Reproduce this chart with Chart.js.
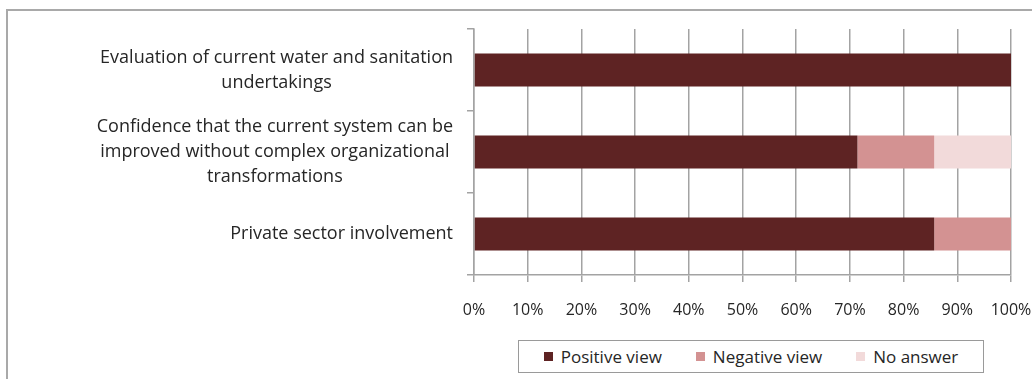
<!DOCTYPE html>
<html>
<head>
<meta charset="utf-8">
<script src="https://cdn.jsdelivr.net/npm/chart.js@4.4.1/dist/chart.umd.min.js"></script>
<style>
  html, body { margin: 0; padding: 0; background: #fff; overflow: hidden; width: 1032px; height: 379px; }
  #wrap { position: relative; width: 1032px; height: 379px; overflow: hidden; }
  #frame { position: absolute; left: 6px; top: 9px; width: 1100px; height: 500px; border: 2px solid #a9a9a9; box-sizing: border-box; }
  canvas { position: absolute; left: 0; top: 0; }
  #legend { position: absolute; left: 518px; top: 340px; width: 466px; height: 33px; border: 1.5px solid #9a9a9a; box-sizing: border-box;
            display: flex; align-items: center; justify-content: center; gap: 34px; font-family: "Open Sans", Lato, sans-serif; font-size: 17px; color: #262626; background: #fff; }
  .item { display: flex; align-items: center; white-space: nowrap; }
  .sw { width: 9px; height: 9px; margin-right: 8px; }
</style>
</head>
<body>
<div id="wrap">
  <div id="frame"></div>
  <canvas id="c" width="1032" height="379"></canvas>
  <div id="legend"></div>
</div>
<script>
// ---- data ----
const categories = [
  ["Evaluation of current water and sanitation", "undertakings"],
  ["Confidence that the current system can be", "improved without complex organizational", "transformations"],
  ["Private sector involvement"]
];
const seriesNames = ["Positive view", "Negative view", "No answer"];
const positiveView = [100, 71.4, 85.7];
const negativeView = [0, 14.3, 14.3];
const noAnswer = [0, 14.3, 0];
const xTickValues = [0, 10, 20, 30, 40, 50, 60, 70, 80, 90, 100];
const seriesColors = ["#5e2323", "#d39292", "#f2dada"];

const FONT = '"Open Sans", Lato, sans-serif';
const TEXT = '#262626';
const GRID = '#a3a3a3';

const catLabelsPlugin = {
  id: 'catLabels',
  afterDraw(chart) {
    const ys = chart.scales.y;
    const ctx = chart.ctx;
    ctx.save();
    ctx.font = '18px ' + FONT;
    ctx.fillStyle = TEXT;
    ctx.textAlign = 'center';
    ctx.textBaseline = 'middle';
    const lh = 25;
    const right = ys.right - 21;
    categories.forEach((lines, i) => {
      const cy = ys.getPixelForValue(i);
      const maxW = Math.max(...lines.map(l => ctx.measureText(l).width));
      const cx = right - maxW / 2;
      lines.forEach((l, j) => {
        ctx.fillText(l, cx, cy + (j - (lines.length - 1) / 2) * lh);
      });
    });
    ctx.restore();
  }
};

const datasets = [positiveView, negativeView, noAnswer].map((d, i) => ({
  label: seriesNames[i],
  data: d,
  backgroundColor: seriesColors[i],
  borderWidth: 0,
  barPercentage: 0.4,
  categoryPercentage: 1.0
}));

const chart = new Chart(document.getElementById('c'), {
  type: 'bar',
  data: { labels: categories.map(c => c.join(' ')), datasets },
  options: {
    indexAxis: 'y',
    responsive: false,
    animation: false,
    layout: { padding: { left: 0, right: 21, top: 29, bottom: 0 } },
    plugins: { legend: { display: false }, tooltip: { enabled: false } },
    scales: {
      x: {
        stacked: true,
        min: 0, max: 100,
        afterFit(s) { s.height = 104; s.paddingLeft = 0; s.paddingRight = 0; },
        afterBuildTicks(s) { s.ticks = xTickValues.map(v => ({ value: v })); },
        grid: { color: GRID, lineWidth: 1.5, tickLength: 7, drawTicks: true },
        border: { color: GRID, width: 1.5 },
        ticks: {
          padding: 19,
          color: TEXT,
          maxRotation: 0,
          font: { family: FONT, size: 16 },
          callback: v => v + '%'
        }
      },
      y: {
        stacked: true,
        afterFit(s) { s.width = 474; s.paddingTop = 0; s.paddingBottom = 0; },
        grid: { drawOnChartArea: false, drawTicks: true, tickLength: 7, color: GRID, lineWidth: 1.5, offset: true },
        border: { color: GRID, width: 1.5 },
        ticks: { display: false }
      }
    }
  },
  plugins: [catLabelsPlugin]
});

// HTML legend
const lg = document.getElementById('legend');
seriesNames.forEach((n, i) => {
  const it = document.createElement('div');
  it.className = 'item';
  const sw = document.createElement('span');
  sw.className = 'sw';
  sw.style.background = seriesColors[i];
  const tx = document.createElement('span');
  tx.textContent = n;
  it.appendChild(sw); it.appendChild(tx);
  lg.appendChild(it);
});
</script>
</body>
</html>
